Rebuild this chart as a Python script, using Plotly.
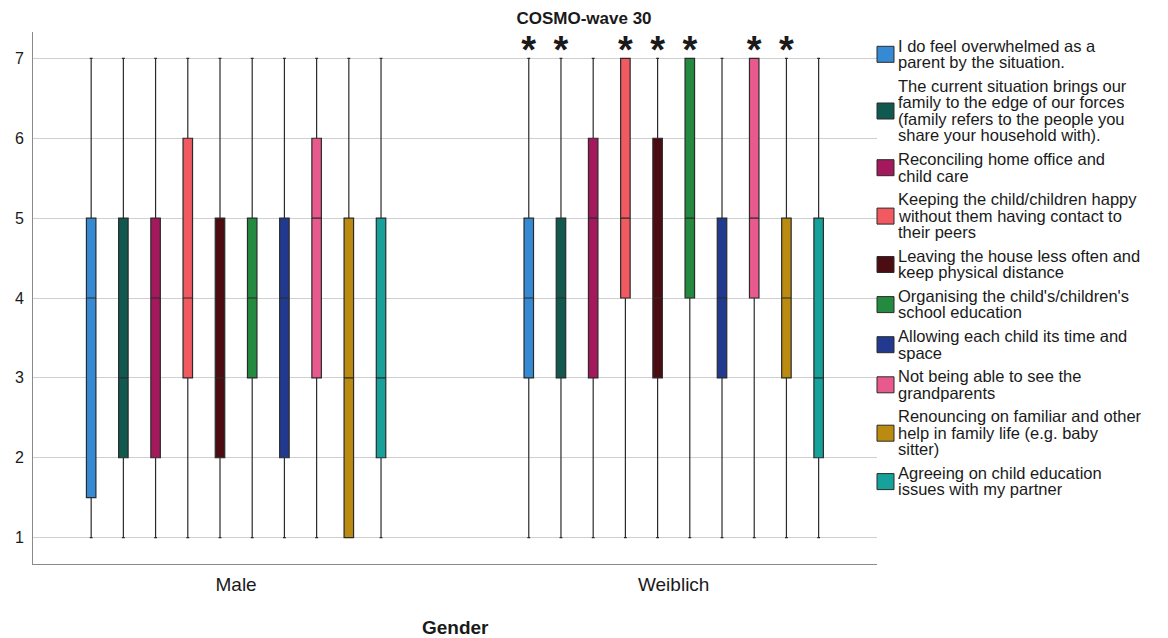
import plotly.graph_objects as go

# ---- data -------------------------------------------------------------
genders = ["Male", "Weiblich"]

item_labels = [
    "I do feel overwhelmed as a\nparent by the situation.",
    "The current situation brings our\nfamily to the edge of our forces\n(family refers to the people you\nshare your household with).",
    "Reconciling home office and\nchild care",
    "Keeping the child/children happy\nwithout them having contact to\ntheir peers",
    "Leaving the house less often and\nkeep physical distance",
    "Organising the child's/children's\nschool education",
    "Allowing each child its time and\nspace",
    "Not being able to see the\ngrandparents",
    "Renouncing on familiar and other\nhelp in family life (e.g. baby\nsitter)",
    "Agreeing on child education\nissues with my partner",
]

colors = ["#358ad3", "#11584f", "#a3195b", "#f05a60", "#4b0c12",
          "#238a3f", "#213a8f", "#e85a8e", "#bb8a10", "#16a19a"]

male_min = [1, 1, 1, 1, 1, 1, 1, 1, 1, 1]
male_q1 = [1.5, 2, 2, 3, 2, 3, 2, 3, 1, 2]
male_med = [4, 3, 4, 4, 3, 4, 4, 5, 3, 3]
male_q3 = [5, 5, 5, 6, 5, 5, 5, 6, 5, 5]
male_max = [7, 7, 7, 7, 7, 7, 7, 7, 7, 7]

fem_min = [1, 1, 1, 1, 1, 1, 1, 1, 1, 1]
fem_q1 = [3, 3, 3, 4, 3, 4, 3, 4, 3, 2]
fem_med = [4, 4, 5, 5, 4, 5, 4, 5, 4, 3]
fem_q3 = [5, 5, 6, 7, 6, 7, 5, 7, 5, 5]
fem_max = [7, 7, 7, 7, 7, 7, 7, 7, 7, 7]

# items with a significant gender difference (marked with *)
fem_significant = [True, True, False, True, True, True, False, True, True, False]

y_ticks = [1, 2, 3, 4, 5, 6, 7]

# ---- geometry ---------------------------------------------------------
W, H = 1168, 638
PL, PR, PT, PB = 33, 877, 32, 564          # plot area in pixels
SLOT = 0.0736                              # spacing between boxes (x units)
BOX_W = 0.0217                             # box width (x units)
FONT = "Liberation Sans, Arial, sans-serif"
TXT = "#1a1a1a"

def pos(g, i):
    return g + (i - 4.5) * SLOT

def px_x(px):
    return (px - PL) / (PR - PL)

def px_y(py):
    return (PB - py) / (PB - PT)

fig = go.Figure()

for i, lab in enumerate(item_labels):
    fig.add_trace(go.Box(
        x=[pos(0, i), pos(1, i)],
        lowerfence=[male_min[i], fem_min[i]],
        q1=[male_q1[i], fem_q1[i]],
        median=[male_med[i], fem_med[i]],
        q3=[male_q3[i], fem_q3[i]],
        upperfence=[male_max[i], fem_max[i]],
        width=BOX_W,
        whiskerwidth=0.3,
        fillcolor=colors[i],
        line=dict(color="#2b2b2b", width=1.2),
        boxpoints=False,
        name=lab.replace("\n", " "),
        showlegend=False,
        hoverinfo="skip",
    ))

# significance markers above the female boxes
sig_x = [pos(1, i) for i, s in enumerate(fem_significant) if s]
fig.add_trace(go.Scatter(
    x=sig_x, y=[7.06] * len(sig_x),
    mode="text", text=["*"] * len(sig_x),
    textposition="middle center",
    textfont=dict(family=FONT, size=38, color=TXT, weight="bold"),
    showlegend=False, hoverinfo="skip", cliponaxis=False,
))

# ---- legend drawn line by line ------------------------------------------
LINE_STEP = 16.6
ITEM_GAP = 23.5
y_line = 46.0
for i, lab in enumerate(item_labels):
    lines = lab.split("\n")
    first = y_line
    for ln in lines:
        fig.add_annotation(
            x=px_x(897), y=px_y(y_line + 1), xref="paper", yref="paper",
            text=ln, showarrow=False, xanchor="left", yanchor="middle",
            height=15, valign="bottom", borderpad=0,
            font=dict(family=FONT, size=16.5, color=TXT),
        )
        y_line += LINE_STEP
    last = y_line - LINE_STEP
    yc = (first + last) / 2
    fig.add_shape(
        type="rect", xref="paper", yref="paper",
        x0=px_x(877), x1=px_x(894), y0=px_y(yc + 8), y1=px_y(yc - 8),
        fillcolor=colors[i], line=dict(color="#2b2b2b", width=1),
    )
    y_line = last + ITEM_GAP

# axis title
fig.add_annotation(
    x=0.5, y=px_y(627), xref="paper", yref="paper",
    text="<b>Gender</b>", showarrow=False, xanchor="center", yanchor="middle",
    font=dict(family=FONT, size=19, color=TXT),
)

fig.update_layout(
    width=W, height=H,
    margin=dict(l=PL, r=W - PR, t=PT, b=H - PB, pad=0),
    plot_bgcolor="white", paper_bgcolor="white",
    boxmode="overlay", showlegend=False,
    font=dict(family=FONT, color=TXT),
    title=dict(text="<b>COSMO-wave 30</b>", x=584 / W, xref="container",
               xanchor="center", y=1 - 18 / H, yref="container",
               yanchor="middle", font=dict(family=FONT, size=17, color=TXT)),
)

fig.update_xaxes(
    range=[(PL - 236.1) / 437.6, (PR - 236.1) / 437.6],
    tickvals=[0, 1], ticktext=genders,
    showgrid=False, zeroline=False, automargin=False,
    showline=True, linecolor="#8a8a8a", linewidth=1,
    ticks="", ticklabelstandoff=3,
    tickfont=dict(family=FONT, size=19, color=TXT),
)

fig.update_yaxes(
    range=[0.67, 7.33], tickvals=y_ticks,
    showgrid=True, gridcolor="#cfcfcf", gridwidth=1,
    zeroline=False, automargin=False,
    showline=True, linecolor="#8a8a8a", linewidth=1,
    ticks="", ticklabelstandoff=5,
    tickfont=dict(family=FONT, size=16, color=TXT),
)

fig.write_html("out.html")
